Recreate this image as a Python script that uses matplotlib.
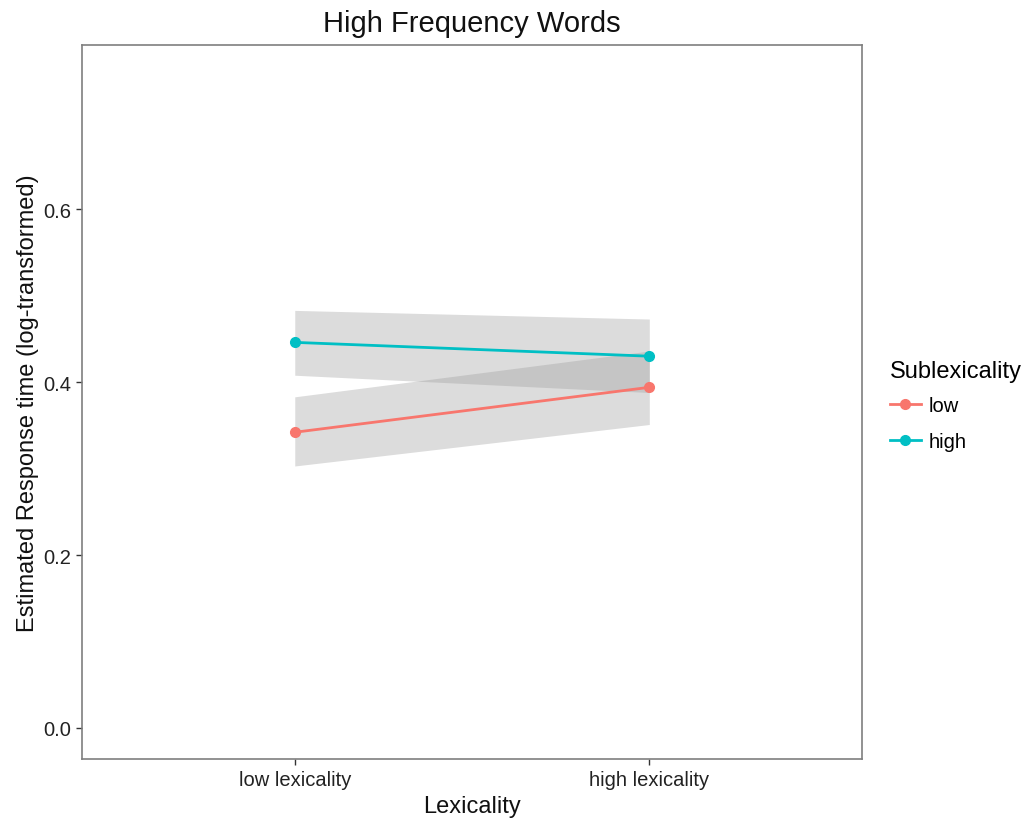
import numpy as np
import matplotlib.pyplot as plt
from matplotlib.lines import Line2D

###--->DADOS
lexicality = ['low lexicality', 'high lexicality']
sublex = ['low', 'high']
colors = ['#F8766D', '#00BFC4']

fit_low = [0.342, 0.394]
lower_low = [0.303, 0.351]
upper_low = [0.383, 0.436]

fit_high = [0.446, 0.430]
lower_high = [0.408, 0.388]
upper_high = [0.483, 0.473]

yticks = [0.0, 0.2, 0.4, 0.6]

###--->CONFIG
plt.rcParams.update({'font.family': ['Liberation Sans', 'DejaVu Sans']})

fig = plt.figure(figsize=(10.33, 8.29), dpi=100)
ax = fig.add_axes([0.0794, 0.0832, 0.7551, 0.8613])

x = np.arange(1, len(lexicality) + 1)

fits = [fit_low, fit_high]
lowers = [lower_low, lower_high]
uppers = [upper_low, upper_high]

# ribbons first, then lines with points
for lo, up in zip(lowers, uppers):
    ax.fill_between(x, lo, up, color='#999999', alpha=0.34, linewidth=0)

for f, c in zip(fits, colors):
    ax.plot(x, f, color=c, lw=2, marker='o', ms=7, zorder=3)

ax.set_xlim(0.4, 2.6)
ax.set_ylim(-0.036, 0.79)
ax.set_xticks(x)
ax.set_xticklabels(lexicality, fontsize=14.5, color='#222222')
ax.set_yticks(yticks)
ax.set_yticklabels([f'{v:.1f}' for v in yticks], fontsize=14.5, color='#222222')
ax.tick_params(length=4, width=1, color='#333333', pad=4)

for s in ax.spines.values():
    s.set_color('#7f7f7f')
    s.set_linewidth(1.2)

ax.set_xlabel('Lexicality', fontsize=17, color='#111111', labelpad=4)
ax.set_ylabel('Estimated Response time (log-transformed)', fontsize=17, color='#111111', labelpad=3)
ax.set_title('High Frequency Words', fontsize=21, color='#111111', pad=10)

handles = [Line2D([], [], color=c, lw=2, marker='o', ms=7) for c in colors]
leg = ax.legend(handles, sublex, title='Sublexicality', loc='upper left',
                bbox_to_anchor=(1.026, 0.57), frameon=False, fontsize=14.5,
                title_fontsize=17, handlelength=1.5, labelspacing=0.85,
                handletextpad=0.4, borderaxespad=0)
leg._legend_box.align = 'left'
leg._legend_box.sep = 10

fig.savefig('out.png', dpi=100)
